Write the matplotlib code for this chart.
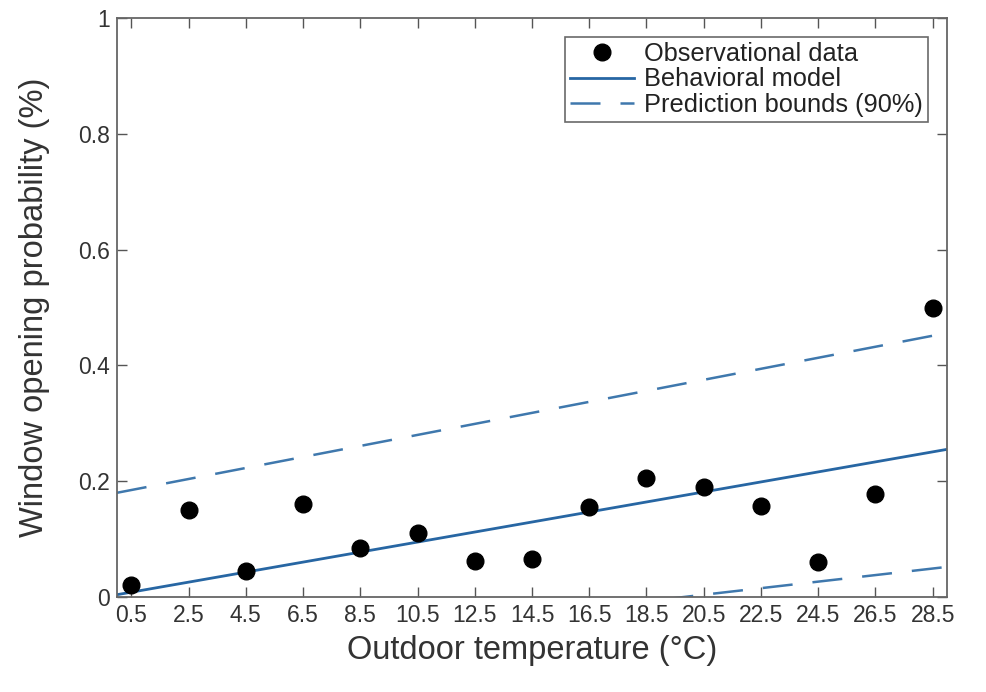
import matplotlib
matplotlib.use("Agg")
import matplotlib.pyplot as plt
from matplotlib.ticker import FixedLocator

plt.rcParams['font.family'] = ['Liberation Sans', 'DejaVu Sans']

# Observational data
temps = [0.5, 2.5, 4.5, 6.5, 8.5, 10.5, 12.5, 14.5, 16.5, 18.5, 20.5, 22.5, 24.5, 26.5, 28.5]
prob = [0.021, 0.150, 0.045, 0.161, 0.085, 0.110, 0.062, 0.066, 0.155, 0.206, 0.190, 0.157, 0.060, 0.178, 0.500]

# Model lines (read at the x-limits)
line_x = [0, 29]
model = [0.004, 0.255]
upper = [0.180, 0.456]
lower = [-0.112, 0.052]

xticks = [0.5, 2.5, 4.5, 6.5, 8.5, 10.5, 12.5, 14.5, 16.5, 18.5, 20.5, 22.5, 24.5, 26.5, 28.5]
xticklabels = ['0.5', '2.5', '4.5', '6.5', '8.5', '10.5', '12.5', '14.5', '16.5', '18.5',
               '20.5', '22.5', '24.5', '26.5', '28.5']
yticks = [0, 0.2, 0.4, 0.6, 0.8, 1.0]
yticklabels = ['0', '0.2', '0.4', '0.6', '0.8', '1']

fig = plt.figure(figsize=(9.86, 6.92), dpi=100)
ax = fig.add_axes([117/986, 1-597/692, (947-117)/986, (597-18)/692])

ax.plot(temps, prob, 'o', color='black', markersize=12, label='Observational data', zorder=3)
ax.plot(line_x, model, '-', color='#2766a3', lw=2.0, label='Behavioral model', zorder=2)
ax.plot(line_x, upper, color='#3f78ad', lw=1.8, dashes=(12, 8), label='Prediction bounds (90%)', zorder=2)
ax.plot(line_x, lower, color='#3f78ad', lw=1.8, dashes=(12, 8), zorder=2)

ax.set_xlim(0, 29)
ax.set_ylim(0, 1)
ax.xaxis.set_major_locator(FixedLocator(xticks))
ax.set_xticklabels(xticklabels)
ax.yaxis.set_major_locator(FixedLocator(yticks))
ax.set_yticklabels(yticklabels)

ax.tick_params(direction='in', length=7, width=1.0, colors='#555555', labelcolor='#333333',
               labelsize=16.5, top=True, right=True, pad=5)
for s in ax.spines.values():
    s.set_color('#666666')
    s.set_linewidth(1.3)

ax.set_xlabel('Outdoor temperature (°C)', fontsize=23.5, color='#333333', labelpad=6)
ax.set_ylabel('Window opening probability (%)', fontsize=23.5, color='#333333', labelpad=20)

leg = ax.legend(loc='upper right', fontsize=18.3, frameon=True, fancybox=False,
                edgecolor='#444444', labelspacing=0.05, handlelength=2.5,
                handletextpad=0.4, borderpad=0.2, borderaxespad=0.75)
leg.get_frame().set_linewidth(1.2)
for t in leg.get_texts():
    t.set_color('#222222')

fig.savefig('out.png', dpi=100)
